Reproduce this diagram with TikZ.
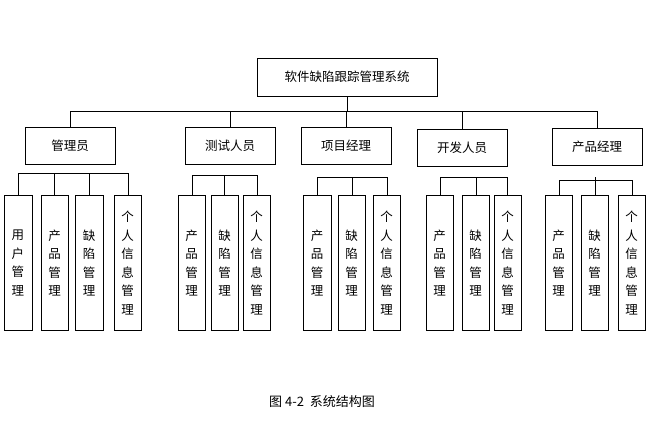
\documentclass[tikz,border=0pt]{standalone}
\usepackage{fontspec}
\newfontfamily\cjk{Noto Sans CJK SC}
\begin{document}
\begin{tikzpicture}[x=1pt,y=-1pt,line width=0.8pt,
  box/.style={draw,font=\cjk\fontsize{12.5}{14}\selectfont,inner sep=0},
  vt/.style={font=\cjk\fontsize{12.5}{18.5}\selectfont,align=center,inner sep=0}]
\useasboundingbox (0,0) rectangle (664,423);
\node[box,minimum width=180,minimum height=38] (r) at (347,77) {软件缺陷跟踪管理系统};
\foreach \n/\t/\x/\y in {a/管理员/70/145.5,b/测试人员/230/145.5,c/项目经理/346/145.5,d/开发人员/462/148,e/产品经理/597/147}{
  \node[box,minimum width=90,minimum height=37] (\n) at (\x,\y) {\t};
  \draw (r.south) |- (\x,111) -- (\n.north);
}
\draw (70,111) -- (597,111);
\foreach \g/\by/\l in {
  a/173/{18/4/32/用\\户\\管\\理,54/41/68/产\\品\\管\\理,89/75/103/缺\\陷\\管\\理,128/114/141/个\\人\\信\\息\\管\\理},
  b/175/{192/178/205/产\\品\\管\\理,224/211/238/缺\\陷\\管\\理,257/243/270/个\\人\\信\\息\\管\\理},
  c/177/{317/303/331/产\\品\\管\\理,352/338/365/缺\\陷\\管\\理,387/373/400/个\\人\\信\\息\\管\\理},
  d/177/{440/426/453/产\\品\\管\\理,476/462/489/缺\\陷\\管\\理,507/494/521/个\\人\\信\\息\\管\\理},
  e/180/{559/545/572/产\\品\\管\\理,595/581/608/缺\\陷\\管\\理,632/618/645/个\\人\\信\\息\\管\\理}}{
  \foreach \dx/\xa/\xb/\t [count=\i] in \l {
    \draw (\xa,195) rectangle (\xb,330);
    \node[vt] (\g\i) at ({(\xa+\xb)/2},263) {\t};
    \draw (\dx,\by) -- (\dx,195);
  }
}
\draw (18,173) -- (128,173);
\draw (192,175) -- (257,175);
\draw (317,177) -- (387,177);
\draw (440,177) -- (507,177);
\draw (559,180) -- (632,180);
\draw (595,177) -- (595,180);
\node[font=\cjk\fontsize{13}{15}\selectfont] (cap) at (322,402) {图 4-2\ \ 系统结构图};
\end{tikzpicture}
\end{document}
